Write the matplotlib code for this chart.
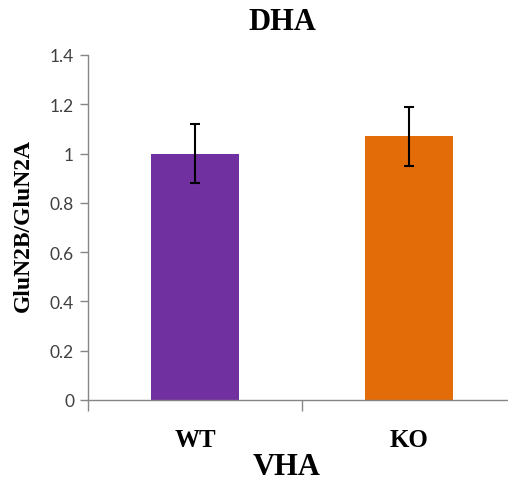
import matplotlib
matplotlib.use("Agg")
import matplotlib.pyplot as plt

# data
groups = ["WT", "KO"]
ratio = [1.0, 1.07]
err = [0.12, 0.12]
colors = ["#7030A0", "#E36C09"]

fig = plt.figure(figsize=(5.08, 4.81), dpi=100)
ax = fig.add_axes([88 / 508, 80 / 481, 428 / 508, 345 / 481])

x = range(len(groups))
ax.bar(x, ratio, width=0.41, color=colors, zorder=2)
ax.errorbar(x, ratio, yerr=err, fmt="none", ecolor="black",
            elinewidth=1.5, capsize=3.8, capthick=1.5, zorder=3)

ax.set_xlim(-0.5, 1.5)
ax.set_ylim(0, 1.4)
ax.set_yticks([0, 0.2, 0.4, 0.6, 0.8, 1.0, 1.2, 1.4])
ax.set_yticklabels(["0", "0.2", "0.4", "0.6", "0.8", "1", "1.2", "1.4"],
                   fontfamily="Lato", fontsize=12.5, color="#404040")
ax.set_xticks([0, 1])
ax.set_xticklabels(groups, fontfamily="Liberation Serif", fontweight="bold",
                   fontsize=18)
ax.set_xticks([-0.5, 0.5, 1.5], minor=True)
ax.tick_params(axis="x", which="major", length=0, pad=20)
ax.tick_params(axis="x", which="minor", length=8, color="#868686", width=1)
ax.tick_params(axis="y", length=6, color="#868686", width=1, pad=4)

for s in ["top", "right"]:
    ax.spines[s].set_visible(False)
for s in ["left", "bottom"]:
    ax.spines[s].set_color("#868686")
    ax.spines[s].set_linewidth(1)

fig.text(282.5 / 508, 1 - 22.5 / 481, "DHA", ha="center", va="center",
         fontfamily="Liberation Serif", fontweight="bold", fontsize=22)
fig.text(287 / 508, 1 - 468 / 481, "VHA", ha="center", va="center",
         fontfamily="Liberation Serif", fontweight="bold", fontsize=22)
fig.text(23.5 / 508, 1 - 225.5 / 481, "GluN2B/GluN2A", ha="center",
         va="center", rotation=90, fontfamily="Liberation Serif",
         fontweight="bold", fontsize=17)

fig.savefig("out.png", dpi=100)
